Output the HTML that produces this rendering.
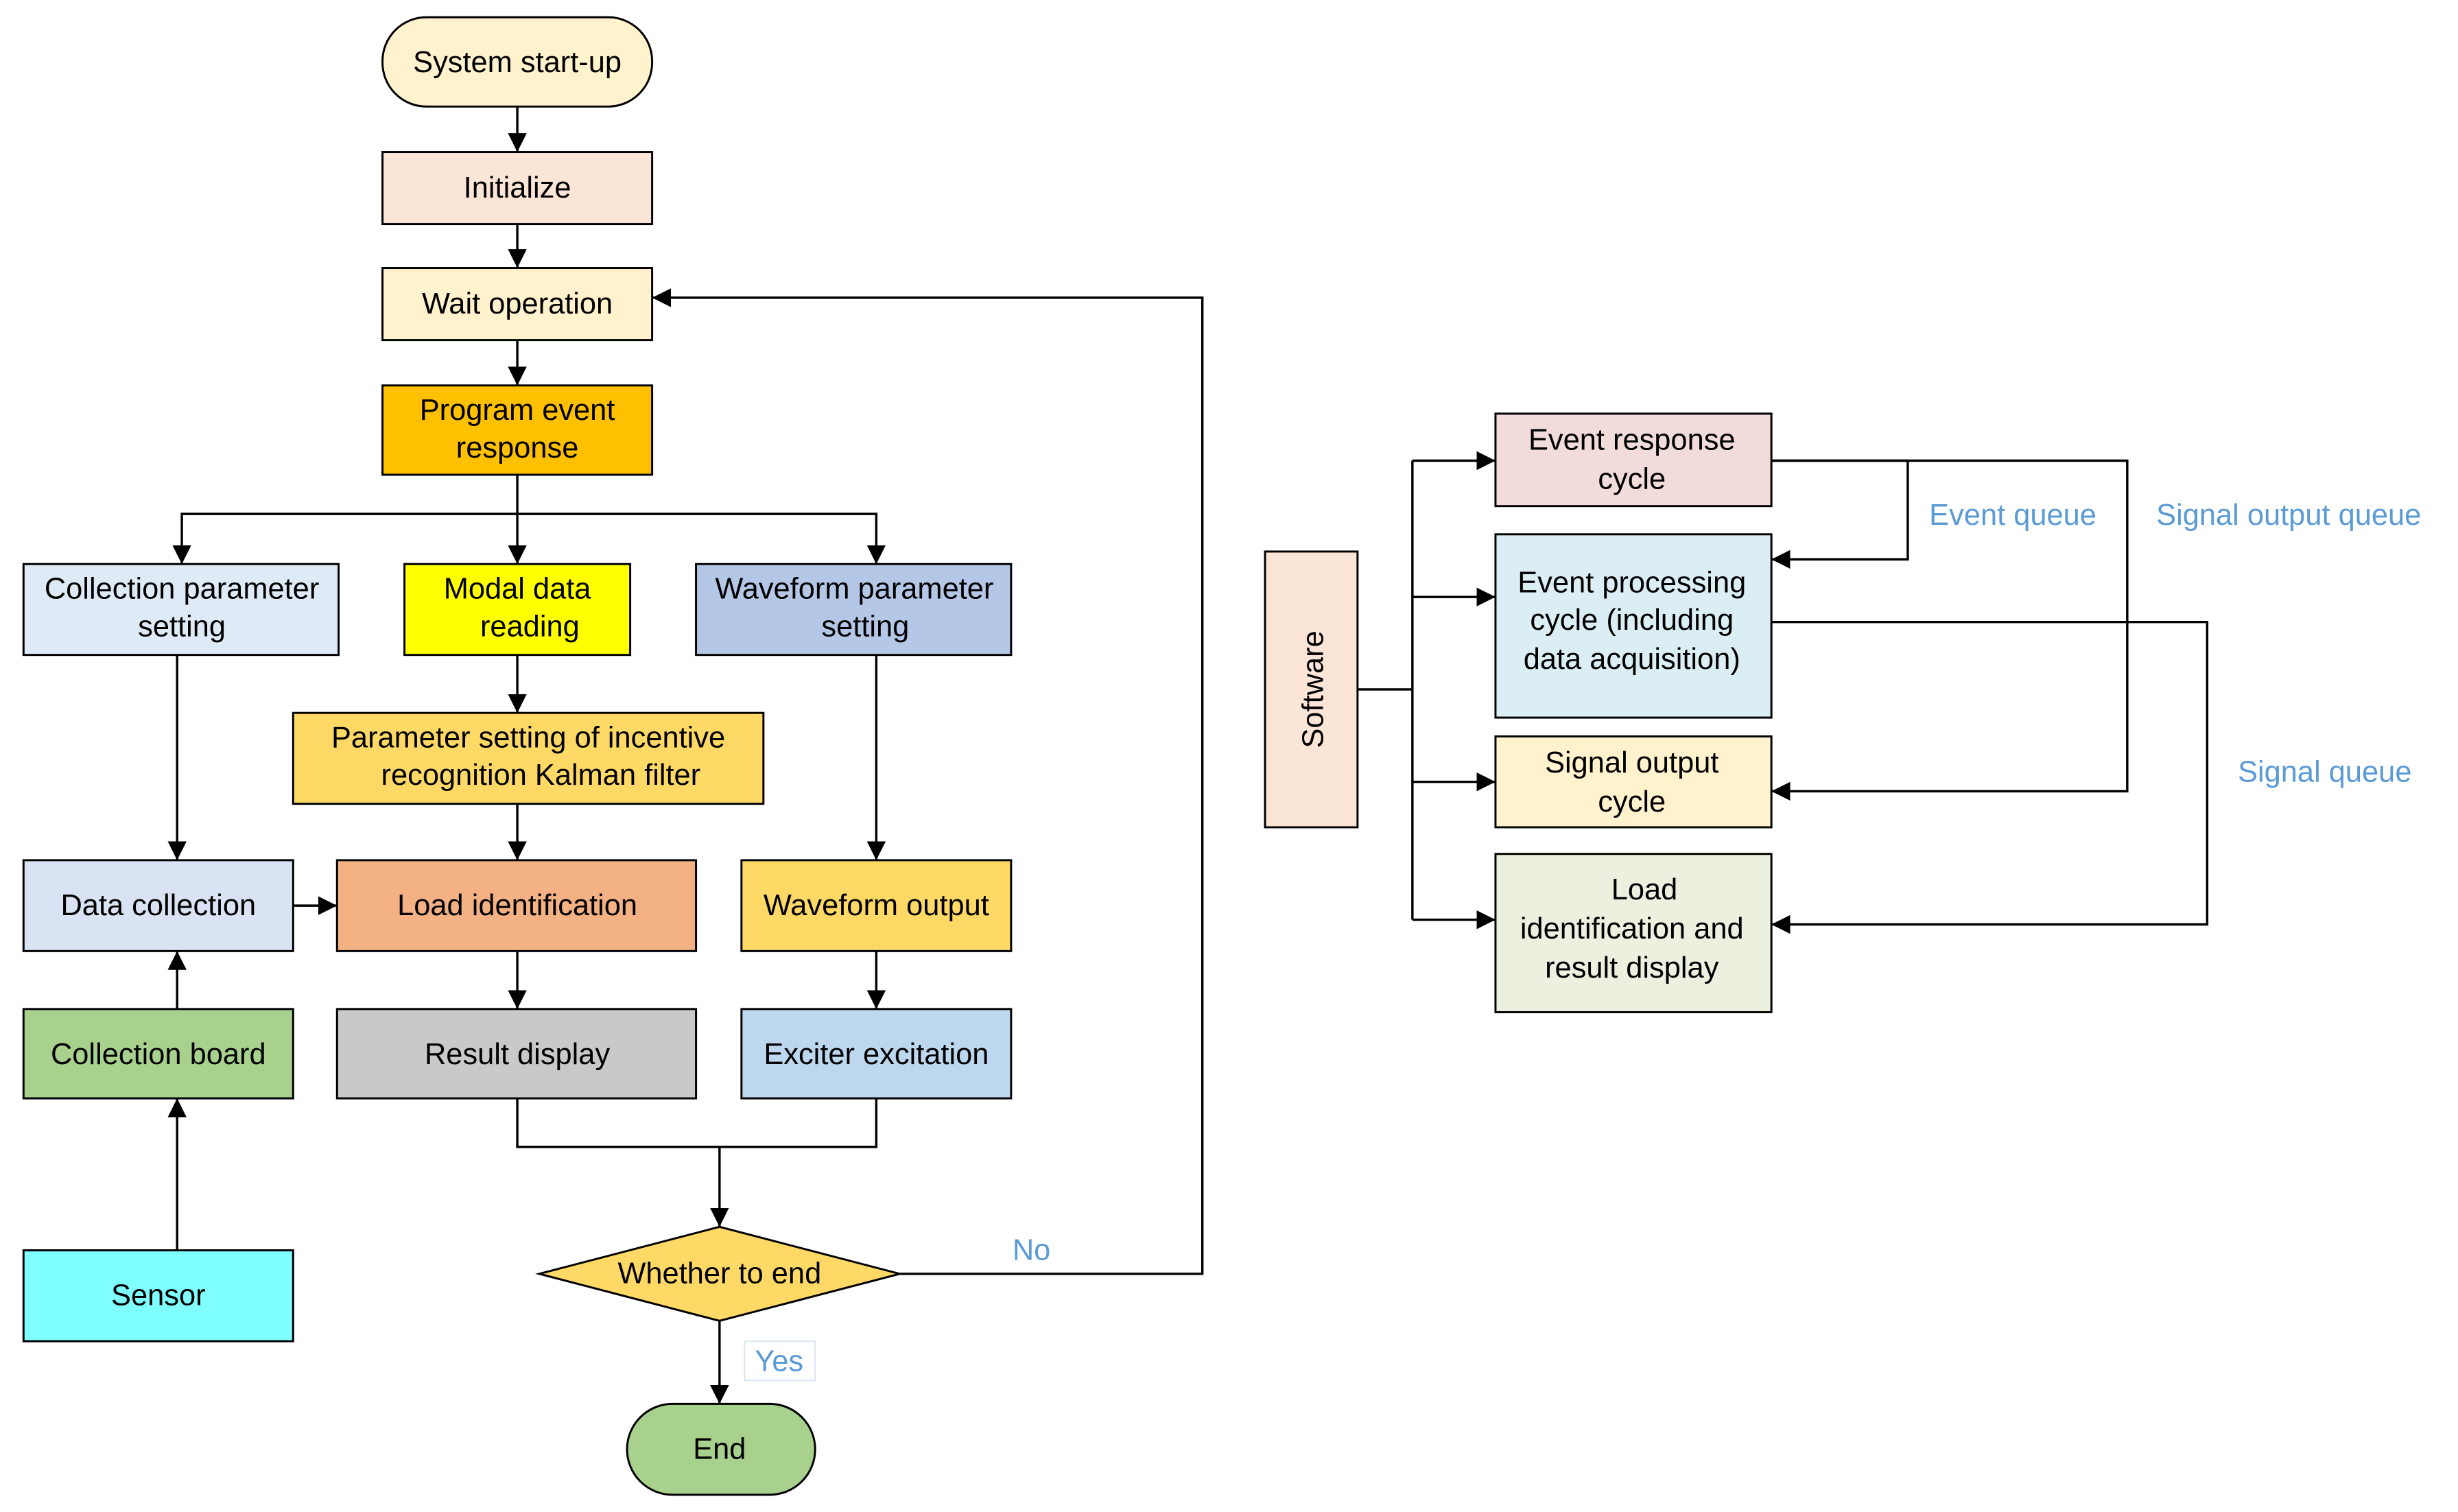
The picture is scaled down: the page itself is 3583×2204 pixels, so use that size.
<!DOCTYPE html>
<html><head><meta charset="utf-8"><style>
html,body{margin:0;padding:0;background:#fff;}
svg{display:block;}
text{font-family:"Liberation Sans",Arial,sans-serif;font-size:19px;fill:#000;}
.q{fill:#5b9bd5;font-size:19px;}
</style></head><body>
<svg width="3583" height="2204" viewBox="0 0 1568 965" preserveAspectRatio="none" xmlns="http://www.w3.org/2000/svg">
<defs><marker id="b" viewBox="0 0 10 10" refX="10" refY="5" markerWidth="12" markerHeight="12" markerUnits="userSpaceOnUse" orient="auto"><path d="M0,0L10,5L0,10z" fill="#000"/></marker></defs>
<g stroke="#000" stroke-width="1.3">
<rect x="244" y="11" width="172" height="57" rx="28" fill="#fff2cc"/>
<rect x="244" y="97" width="172" height="46" fill="#fbe5d6"/>
<rect x="244" y="171" width="172" height="46" fill="#fff2cc"/>
<rect x="244" y="246" width="172" height="57" fill="#ffc000"/>
<rect x="15" y="360" width="201" height="58" fill="#deebf7"/>
<rect x="258" y="360" width="144" height="58" fill="#ffff00"/>
<rect x="444" y="360" width="201" height="58" fill="#b4c7e7"/>
<rect x="187" y="455" width="300" height="58" fill="#ffd966"/>
<rect x="15" y="549" width="172" height="58" fill="#dae3f3"/>
<rect x="215" y="549" width="229" height="58" fill="#f4b183"/>
<rect x="473" y="549" width="172" height="58" fill="#ffd966"/>
<rect x="15" y="644" width="172" height="57" fill="#a9d18e"/>
<rect x="215" y="644" width="229" height="57" fill="#c9c9c9"/>
<rect x="473" y="644" width="172" height="57" fill="#bdd7ee"/>
<rect x="15" y="798" width="172" height="58" fill="#7fffff"/>
<polygon points="344,813 459,783 574,813 459,843" fill="#ffd966"/>
<rect x="400" y="896" width="120" height="58" rx="29" fill="#a9d18e"/>
<rect x="807" y="352" width="59" height="176" fill="#fbe5d6"/>
<rect x="954" y="264" width="176" height="59" fill="#f2dcdb"/>
<rect x="954" y="341" width="176" height="117" fill="#dbeef4"/>
<rect x="954" y="470" width="176" height="58" fill="#fff2cc"/>
<rect x="954" y="545" width="176" height="101" fill="#ebf1de"/>
</g>
<g stroke="#000" stroke-width="1.5" fill="none" marker-end="url(#b)">
<path d="M330,68V97"/><path d="M330,143V171"/><path d="M330,217V246"/>
<path d="M330,303V360"/><path d="M330,328H116V360"/><path d="M330,328H559V360"/>
<path d="M330,418V455"/><path d="M330,513V549"/>
<path d="M113,418V549"/><path d="M559,418V549"/>
<path d="M187,578H215"/>
<path d="M113,644V607"/><path d="M113,798V701"/>
<path d="M330,607V644"/><path d="M559,607V644"/>
<path d="M459,732V783"/>
<path d="M574,813H767V190H416"/>
<path d="M459,843V896"/>
<path d="M901,294H954"/><path d="M901,381H954"/><path d="M901,499H954"/><path d="M901,587H954"/>
<path d="M1130,294H1217V357H1130"/>
<path d="M1130,294H1357V505H1130"/>
<path d="M1130,397H1408V590H1130"/>
</g>
<g stroke="#000" stroke-width="1.5" fill="none">
<path d="M330,701V732H559V701"/>
<path d="M866,440H901"/><path d="M901,294V587"/>
</g>
<rect x="475" y="856" width="45" height="25" fill="#fff" stroke="#dde8f3" stroke-width="1"/>
<g text-anchor="middle">
<text x="330" y="46">System start-up</text>
<text x="330" y="126">Initialize</text>
<text x="330" y="200">Wait operation</text>
<text x="330" y="268">Program event</text><text x="330" y="292">response</text>
<text x="116" y="382">Collection parameter</text><text x="116" y="406">setting</text>
<text x="330" y="382">Modal data</text><text x="338" y="406">reading</text>
<text x="545" y="382">Waveform parameter</text><text x="552" y="406">setting</text>
<text x="337" y="477">Parameter setting of incentive</text><text x="345" y="501">recognition Kalman filter</text>
<text x="101" y="584">Data collection</text>
<text x="330" y="584">Load identification</text>
<text x="559" y="584">Waveform output</text>
<text x="101" y="679">Collection board</text>
<text x="330" y="679">Result display</text>
<text x="559" y="679">Exciter excitation</text>
<text x="101" y="833">Sensor</text>
<text x="459" y="819">Whether to end</text>
<text x="459" y="931">End</text>
<text x="1041" y="287">Event response</text><text x="1041" y="312">cycle</text>
<text x="1041" y="378">Event processing</text><text x="1041" y="402">cycle (including</text><text x="1041" y="427">data acquisition)</text>
<text x="1041" y="493">Signal output</text><text x="1041" y="518">cycle</text>
<text x="1049" y="574">Load</text><text x="1041" y="599">identification and</text><text x="1041" y="624">result display</text>
<text class="q" x="658" y="804">No</text>
<text class="q" x="497" y="875">Yes</text>
<text class="q" x="1284" y="335">Event queue</text>
<text class="q" x="1460" y="335">Signal output queue</text>
<text class="q" x="1483" y="499">Signal queue</text>
</g>
<text x="837" y="440" text-anchor="middle" transform="rotate(-90 837 440)" dy="7">Software</text>
</svg>
</body></html>
